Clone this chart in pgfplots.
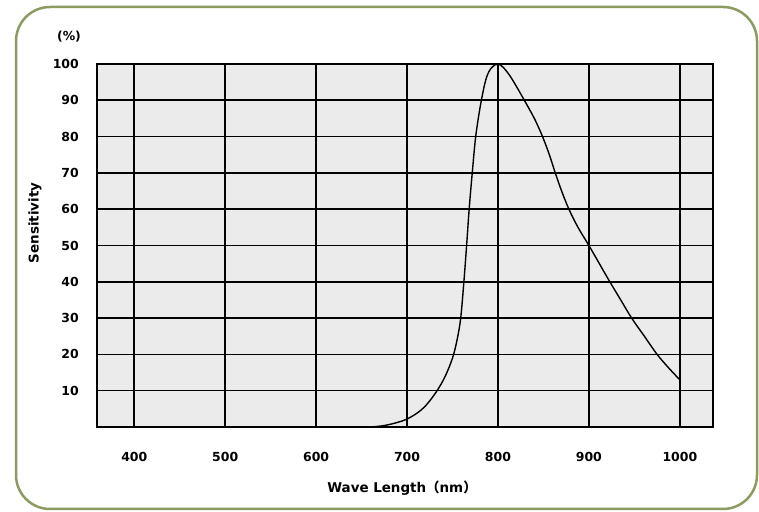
\documentclass[border=0pt]{standalone}
\usepackage{pgfplots}
\pgfplotsset{compat=1.18}
\usepackage{fontspec}
\setmainfont{DejaVu Sans}
\newfontfamily\cjk{Noto Sans CJK JP}
\definecolor{olivebd}{RGB}{140,155,95}
\definecolor{plotbg}{RGB}{235,235,235}
\begin{document}
\begin{tikzpicture}[x=1bp,y=1bp]
\path (0,0) rectangle (759,512);
\draw[olivebd, line width=2.5bp, rounded corners=34bp, fill=white] (16,3) rectangle (757,505);
\begin{axis}[
  at={(97bp,85bp)}, anchor=south west,
  scale only axis, width=616bp, height=363bp,
  xmin=359, xmax=1036.5, ymin=0, ymax=100,
  xtick={400,500,...,1000}, ytick={10,20,...,100},
  grid=major, major grid style={black, line width=1.6bp},
  axis line style={black, line width=1.6bp},
  major tick length=0pt,
  axis background/.style={fill=plotbg},
  /pgf/number format/assume math mode=true,
  /pgf/number format/1000 sep={},
  tick label style={font=\fontsize{12.5}{13}\selectfont\bfseries},
  xticklabel style={anchor=center, yshift=-29.7bp},
  yticklabel style={anchor=east, inner sep=0pt, xshift=-18bp},
  clip=true,
]
\addplot[black, line width=1.4bp, smooth, tension=0.55] coordinates {
(660,0)(675,0.4)(690,1.3)(700,2.2)(712,4)(722,6.3)(733,10)(742,14)(750,19)(755,24)(759,30)(762.5,40)(765.5,50)(768.3,60)(771.7,70)(775.5,80)(781,89)(787,96)(793,99)(800,100)
(806,99)(813,96.8)(821,93.5)(829,90)(840,85)(849,80)(856.5,75)(863,70)(870,65)(878,60)(888,55)(900,50)(911.5,45)(923,40)(935,35)(947,30)(961,25)(975,20)(988,16.2)(1000,13)
};
\end{axis}
\node[font=\fontsize{12.5}{13}\selectfont\bfseries] at (69,475) {(\%)};
\node[font=\fontsize{13.5}{14}\selectfont\bfseries, rotate=90] at (35,289) {Sensitivity};
\node[font=\fontsize{13.5}{14}\selectfont\bfseries] at (402,24) {Wave Length{\cjk （}nm{\cjk ）}};
\end{tikzpicture}
\end{document}
